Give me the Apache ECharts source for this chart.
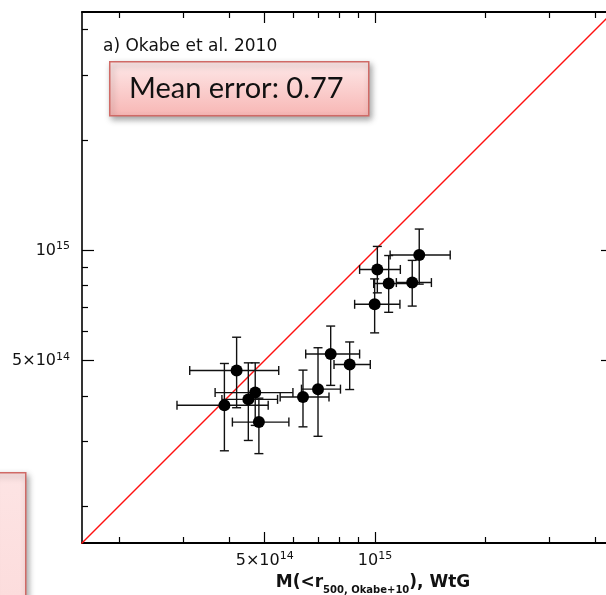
<!DOCTYPE html>
<html>
<head>
<meta charset="utf-8">
<script src="https://cdn.jsdelivr.net/npm/echarts@6/dist/echarts.min.js"></script>
<style>
  html, body { margin: 0; padding: 0; background: #fff; }
  #container { width: 606px; height: 595px; }
</style>
</head>
<body>
<div id="container"></div>
<script>
// masses in units of 1e14 Msun
const UNIT = 1e14;
// x: WtG mass, y: Okabe+10 mass
const xMass = [10.15, 10.90, 12.64, 13.21, 9.98, 4.19, 3.88, 4.51, 4.71, 4.82, 6.36, 6.99, 7.57, 8.53];
const xLow  = [9.08, 9.92, 11.44, 11.00, 8.80, 3.12, 2.88, 3.82, 3.66, 4.08, 5.51, 6.30, 6.47, 7.73];
const xHigh = [11.73, 12.44, 14.26, 16.05, 11.70, 5.46, 5.11, 5.42, 5.97, 5.82, 7.49, 8.05, 9.08, 9.71];
const yMass = [8.85, 8.10, 8.15, 9.69, 7.11, 4.69, 3.77, 3.91, 4.08, 3.39, 3.97, 4.17, 5.20, 4.87];
const yLow  = [7.64, 6.76, 7.03, 8.07, 5.94, 3.71, 2.83, 3.02, 3.32, 2.78, 3.29, 3.10, 4.27, 4.16];
const yHigh = [10.23, 9.66, 9.37, 11.41, 8.34, 5.78, 4.90, 4.92, 4.92, 3.94, 4.70, 5.41, 6.20, 5.61];

// axis range and ticks
const axisMin = Math.pow(10, 14.2);
const axisMax = Math.pow(10, 15.65);
const majorTicks = [5e14, 1e15];
const minorTicks = [2e14, 3e14, 4e14, 6e14, 7e14, 8e14, 9e14, 2e15, 3e15, 4e15];
const tickMantissa = ['5\u00d710', '10'];
const tickExponent = ['14', '15'];
const oneToOne = [1e14, 1e16];

const points = xMass.map(function (v, i) {
    return [v * UNIT, yMass[i] * UNIT, xLow[i] * UNIT, xHigh[i] * UNIT, yLow[i] * UNIT, yHigh[i] * UNIT];
});

const labelFont = 'DejaVu Sans';
const tickRich = {
    m: { fontSize: 16, fontFamily: labelFont, color: '#111', verticalAlign: 'bottom' },
    s: { fontSize: 11, fontFamily: labelFont, color: '#111', verticalAlign: 'bottom', padding: [0, 0, 7, 0] }
};

function formatTick(value) {
    let i = majorTicks.findIndex(function (t) { return Math.abs(t - value) / t < 1e-6; });
    if (i < 0) return '';
    return '{m|' + tickMantissa[i] + '}{s|' + tickExponent[i] + '}';
}

// one axis per tick length / side
function makeAxis(position, ticks, len, lineWidth, withLabels, extra) {
    let axis = {
        type: 'log',
        logBase: 10,
        position: position,
        min: axisMin,
        max: axisMax,
        splitLine: { show: false },
        axisLine: { show: lineWidth > 0, lineStyle: { color: '#000', width: lineWidth } },
        axisTick: { show: true, inside: true, length: len, customValues: ticks,
                    lineStyle: { color: '#000', width: 1.2 } },
        axisLabel: { show: withLabels, customValues: majorTicks, formatter: formatTick, rich: tickRich }
    };
    return Object.assign(axis, extra || {});
}

function renderErrorBars(params, api) {
    let x = api.value(0), y = api.value(1);
    let c = api.coord([x, y]);
    let xl = api.coord([api.value(2), y])[0];
    let xh = api.coord([api.value(3), y])[0];
    let yl = api.coord([x, api.value(4)])[1];
    let yh = api.coord([x, api.value(5)])[1];
    let cap = 4.5;
    let style = { stroke: '#111', lineWidth: 1.4 };
    let seg = function (x1, y1, x2, y2) {
        return { type: 'line', shape: { x1: x1, y1: y1, x2: x2, y2: y2 }, style: style };
    };
    return {
        type: 'group',
        children: [
            seg(xl, c[1], xh, c[1]),
            seg(xl, c[1] - cap, xl, c[1] + cap),
            seg(xh, c[1] - cap, xh, c[1] + cap),
            seg(c[0], yl, c[0], yh),
            seg(c[0] - cap, yl, c[0] + cap, yl),
            seg(c[0] - cap, yh, c[0] + cap, yh)
        ]
    };
}

let dom = document.getElementById('container');
let myChart = echarts.init(dom, null, { renderer: 'canvas' });

let option = {
    backgroundColor: '#fff',
    animation: false,
    grid: { left: 82, top: 12, width: 531, height: 531, show: false,
            containLabel: false, outerBoundsMode: 'none' },
    xAxis: [
        makeAxis('bottom', majorTicks, 11, 2.2, true, {
            name: '{t|M(<r}{sub|500, Okabe+10}{t|), WtG}',
            nameLocation: 'middle',
            nameGap: 26,
            nameTextStyle: {
                padding: [0, 0, 0, 51],
                rich: {
                    t: { fontSize: 17, fontWeight: 'bold', fontFamily: labelFont, color: '#111',
                         verticalAlign: 'bottom', padding: [0, 0, 5, 0] },
                    sub: { fontSize: 10, fontWeight: 'bold', fontFamily: labelFont, color: '#111',
                           verticalAlign: 'bottom' }
                }
            }
        }),
        makeAxis('bottom', minorTicks, 6, 0, false),
        makeAxis('top', majorTicks, 11, 2, false),
        makeAxis('top', minorTicks, 6, 0, false)
    ],
    yAxis: [
        makeAxis('left', majorTicks, 12, 1.6, true, { axisLabel: { show: true, margin: 12,
            customValues: majorTicks, formatter: formatTick, rich: tickRich } }),
        makeAxis('left', minorTicks, 6, 0, false),
        makeAxis('right', majorTicks, 12, 1.6, false),
        makeAxis('right', minorTicks, 6, 0, false)
    ],
    graphic: [
        {
            type: 'text', left: 103, top: 38,
            style: { text: 'a) Okabe et al. 2010', font: '17px "DejaVu Sans"', fill: '#111' }
        },
        {
            type: 'rect', left: 109, top: 61,
            shape: { width: 259, height: 54 },
            style: {
                fill: new echarts.graphic.LinearGradient(0, 0, 0, 1, [
                    { offset: 0, color: '#fee9e9' },
                    { offset: 1, color: '#f7b6b4' }
                ]),
                stroke: '#d06a66', lineWidth: 1.5,
                shadowBlur: 6, shadowOffsetX: 2, shadowOffsetY: 3, shadowColor: 'rgba(0,0,0,0.35)'
            },
            z: 10
        },
        {
            type: 'text', left: 129, top: 74,
            style: { text: 'Mean error: 0.77', font: '29px Lato', fill: '#111' },
            z: 11
        },
        {
            type: 'rect', left: -10, top: 472,
            shape: { width: 35, height: 140 },
            style: {
                fill: new echarts.graphic.LinearGradient(0, 0, 0, 1, [
                    { offset: 0, color: '#fde4e4' },
                    { offset: 1, color: '#fcdcdc' }
                ]),
                stroke: '#d06a66', lineWidth: 1.5,
                shadowBlur: 6, shadowOffsetX: 2, shadowOffsetY: 3, shadowColor: 'rgba(0,0,0,0.35)'
            },
            z: 10
        }
    ],
    series: [
        {
            type: 'line',
            data: [[oneToOne[0], oneToOne[0]], [oneToOne[1], oneToOne[1]]],
            showSymbol: false,
            symbol: 'none',
            clip: true,
            lineStyle: { color: '#ff1010', width: 1.4 },
            silent: true,
            z: 2
        },
        {
            type: 'custom',
            renderItem: renderErrorBars,
            data: points,
            encode: { x: [0, 2, 3], y: [1, 4, 5] },
            clip: true,
            z: 3
        },
        {
            type: 'scatter',
            data: points.map(function (p) { return [p[0], p[1]]; }),
            symbol: 'circle',
            symbolSize: 12,
            itemStyle: { color: '#000', opacity: 1 },
            z: 4
        }
    ]
};

myChart.setOption(option, true);
window.onresize = function () {
    myChart.resize();
};
</script>
</body>
</html>
